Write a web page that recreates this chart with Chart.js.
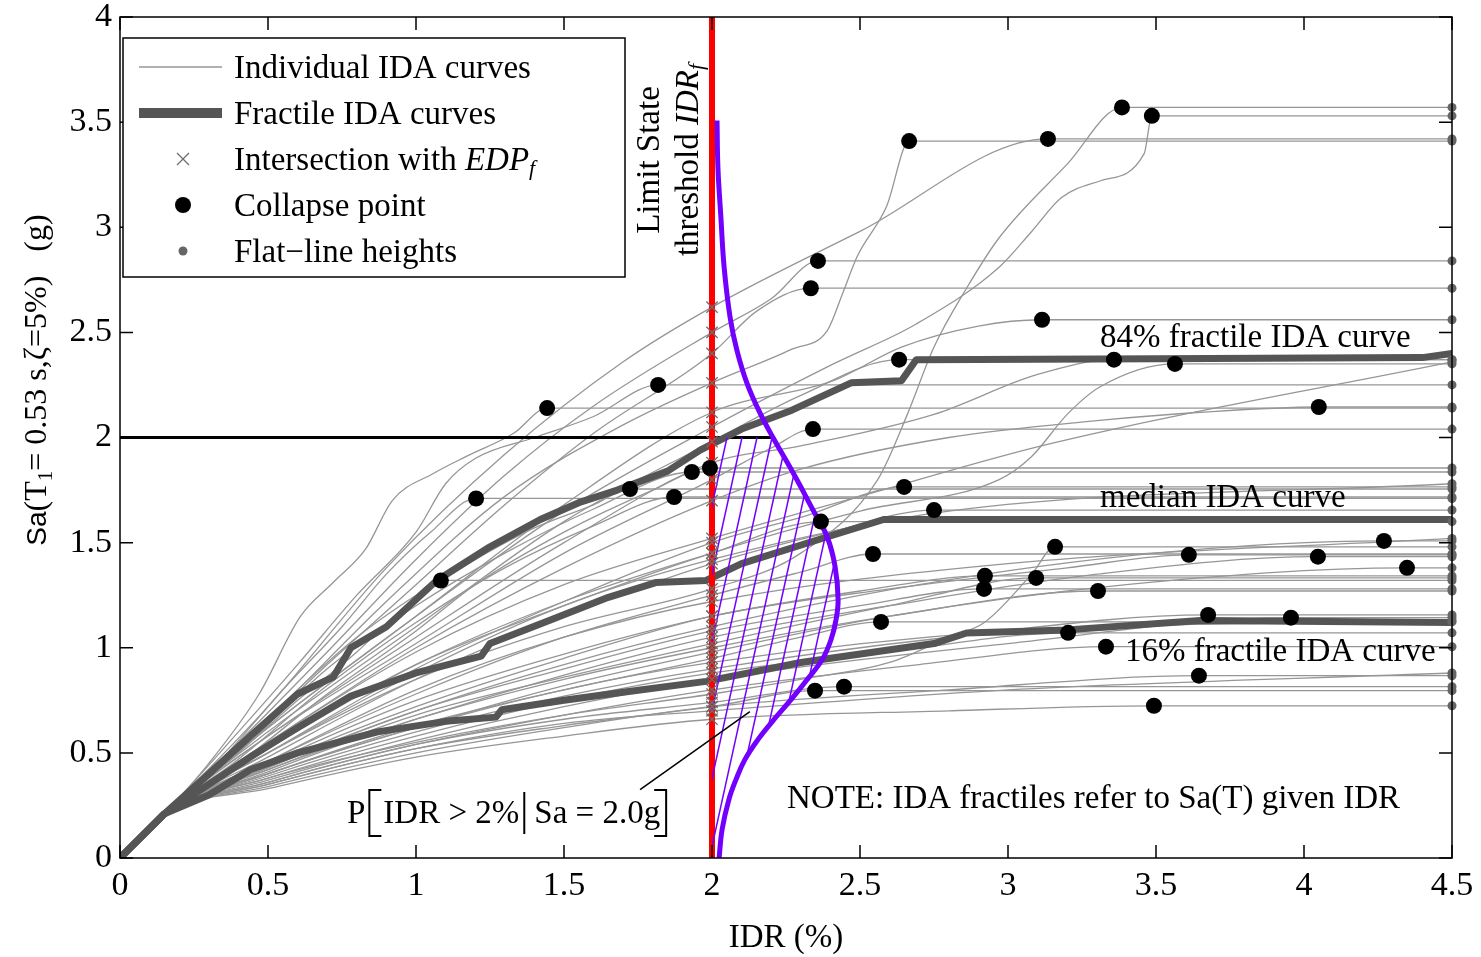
<!DOCTYPE html>
<html>
<head>
<meta charset="utf-8">
<script src="https://cdn.jsdelivr.net/npm/chart.js@4.4.1/dist/chart.umd.min.js"></script>
<style>
  body { margin: 0; background: #fff; }
</style>
</head>
<body>
<canvas id="grafica-ida" width="1481" height="957"></canvas>
<script>
// ticks
const idrTicks = [0, 0.5, 1, 1.5, 2, 2.5, 3, 3.5, 4, 4.5];
const saTicks = [0, 0.5, 1, 1.5, 2, 2.5, 3, 3.5, 4];

// limit state threshold and Sa level used for the probability
const limitIdr = 2.0;
const saLevel = 2.0;

// individual IDA curves, [IDR %, Sa g], last point is the flat-line at 4.5
const idaCurves = [
  [[0,0],[0.15,0.21],[0.4,0.5],[0.6,0.75],[0.8,0.98],[0.95,1.18],[1.084,1.32],[4.5,1.32]],
  [[0,0],[0.15,0.21],[0.35,0.48],[0.55,0.8],[0.75,1.1],[0.9,1.35],[1.05,1.55],[1.203,1.71],[4.5,1.71]],
  [[0,0],[0.15,0.21],[0.3,0.45],[0.47,0.78],[0.61,1.15],[0.72,1.31],[0.83,1.47],[0.92,1.7],[1.06,1.83],[1.17,1.91],[1.33,2.02],[1.443,2.14],[4.5,2.14]],
  [[0,0],[0.15,0.21],[0.4,0.6],[0.6,0.92],[0.8,1.25],[1.0,1.55],[1.1,1.78],[1.2,1.9],[1.4,2.0],[1.6,2.1],[1.818,2.25],[4.5,2.25]],
  [[0,0],[0.15,0.21],[0.4,0.52],[0.6,0.8],[0.8,1.05],[1.0,1.25],[1.2,1.42],[1.4,1.57],[1.6,1.68],[1.723,1.755],[4.5,1.755]],
  [[0,0],[0.15,0.21],[0.4,0.47],[0.7,0.82],[1.0,1.12],[1.3,1.38],[1.6,1.58],[1.872,1.717],[4.5,1.717]],
  [[0,0],[0.15,0.21],[0.4,0.5],[0.7,0.9],[1.0,1.2],[1.3,1.45],[1.6,1.66],[1.932,1.836],[4.5,1.836]],
  [[0,0],[0.15,0.21],[0.4,0.45],[0.7,0.78],[1.0,1.08],[1.2,1.3],[1.5,1.55],[1.8,1.75],[1.993,1.855],[4.5,1.855]],
  [[0,0],[0.15,0.21],[0.4,0.55],[0.7,0.98],[1.0,1.42],[1.3,1.82],[1.6,2.15],[2.0,2.5],[2.2,2.66],[2.358,2.84],[4.5,2.84]],
  [[0,0],[0.15,0.21],[0.4,0.52],[0.7,0.92],[1.0,1.3],[1.3,1.68],[1.6,2.02],[2.0,2.4],[2.15,2.6],[2.334,2.71],[4.5,2.71]],
  [[0,0],[0.15,0.21],[0.5,0.66],[0.9,1.22],[1.3,1.72],[1.7,2.06],[2.0,2.26],[2.27,2.42],[2.39,2.51],[2.44,2.68],[2.49,2.86],[2.59,3.1],[2.666,3.41],[4.5,3.41]],
  [[0,0],[0.15,0.21],[0.5,0.72],[0.9,1.38],[1.3,1.92],[1.7,2.36],[2.0,2.62],[2.5,2.98],[3.135,3.42],[4.5,3.42]],
  [[0,0],[0.15,0.21],[0.5,0.5],[1.0,0.85],[1.5,1.1],[2.0,1.28],[2.3,1.45],[2.56,1.8],[2.66,2.11],[2.75,2.43],[2.86,2.71],[2.97,2.95],[3.2,3.3],[3.385,3.57],[4.5,3.57]],
  [[0,0],[0.15,0.21],[0.5,0.62],[1.0,1.15],[1.5,1.65],[2.0,2.05],[2.41,2.35],[2.69,2.54],[2.97,2.81],[3.08,2.98],[3.18,3.14],[3.31,3.22],[3.46,3.35],[3.486,3.53],[4.5,3.53]],
  [[0,0],[0.15,0.21],[0.5,0.62],[1.0,1.15],[1.5,1.68],[2.0,2.12],[2.41,2.27],[2.64,2.43],[2.9,2.53],[3.115,2.56],[4.5,2.56]],
  [[0,0],[0.15,0.21],[0.5,0.6],[1.0,1.1],[1.5,1.6],[2.0,1.98],[2.3,2.2],[2.632,2.37],[4.5,2.37]],
  [[0,0],[0.15,0.21],[0.5,0.58],[1.0,1.05],[1.5,1.5],[2.0,1.88],[2.3,1.96],[2.75,2.11],[3.1,2.3],[3.358,2.37],[4.5,2.37]],
  [[0,0],[0.15,0.21],[0.5,0.52],[1.0,0.92],[1.5,1.2],[2.0,1.45],[2.5,1.65],[2.97,1.8],[3.08,1.91],[3.2,2.11],[3.31,2.24],[3.564,2.35],[4.5,2.35]],
  [[0,0],[0.15,0.21],[0.5,0.55],[1.0,0.98],[1.5,1.3],[2.0,1.52],[2.5,1.72],[3.14,1.97],[4.5,2.36]],
  [[0,0],[0.15,0.21],[0.5,0.55],[1.0,1.0],[1.5,1.38],[2.0,1.7],[2.3,1.85],[2.8,2.0],[3.3,2.08],[3.65,2.12],[4.05,2.145],[4.5,2.145]],
  [[0,0],[0.15,0.21],[0.5,0.58],[1.0,1.02],[1.5,1.45],[2.0,1.8],[2.2,1.95],[2.341,2.04],[4.5,2.04]],
  [[0,0],[0.15,0.21],[0.5,0.5],[1.0,0.9],[1.5,1.22],[2.0,1.5],[2.3,1.62],[2.649,1.765],[4.5,1.765]],
  [[0,0],[0.15,0.21],[0.5,0.48],[1.0,0.85],[1.5,1.15],[2.0,1.4],[2.4,1.55],[2.75,1.655],[4.5,1.655]],
  [[0,0],[0.15,0.21],[0.5,0.52],[1.0,0.92],[1.5,1.22],[2.0,1.45],[2.368,1.6],[4.5,1.6]],
  [[0,0],[0.15,0.21],[0.5,0.46],[1.0,0.78],[1.5,1.05],[2.0,1.25],[2.3,1.36],[2.544,1.446],[4.5,1.446]],
  [[0,0],[0.15,0.21],[0.5,0.38],[1.0,0.55],[1.5,0.68],[2.0,0.78],[2.3,0.85],[2.6,0.93],[2.8,1.05],[2.92,1.12],[3.08,1.35],[3.159,1.48],[4.5,1.48]],
  [[0,0],[0.15,0.21],[0.5,0.44],[1.0,0.72],[1.5,0.95],[2.0,1.15],[2.6,1.28],[3.2,1.38],[3.611,1.442],[4.5,1.442]],
  [[0,0],[0.15,0.21],[0.5,0.42],[1.0,0.66],[1.5,0.87],[2.0,1.05],[2.6,1.2],[3.3,1.35],[4.047,1.433],[4.5,1.433]],
  [[0,0],[0.15,0.21],[0.5,0.43],[1.0,0.7],[1.5,0.92],[2.0,1.1],[2.7,1.3],[3.5,1.45],[4.27,1.508],[4.5,1.508]],
  [[0,0],[0.15,0.21],[0.5,0.4],[1.0,0.62],[1.5,0.82],[2.0,0.98],[2.6,1.15],[3.4,1.3],[4.348,1.38],[4.5,1.38]],
  [[0,0],[0.15,0.21],[0.5,0.45],[1.0,0.75],[1.5,0.97],[2.0,1.15],[2.5,1.27],[2.922,1.342],[4.5,1.342]],
  [[0,0],[0.15,0.21],[0.5,0.43],[1.0,0.7],[1.5,0.9],[2.0,1.08],[2.5,1.2],[2.919,1.28],[4.5,1.28]],
  [[0,0],[0.15,0.21],[0.5,0.42],[1.0,0.68],[1.5,0.86],[2.0,1.02],[2.6,1.2],[3.095,1.332],[4.5,1.332]],
  [[0,0],[0.15,0.21],[0.5,0.41],[1.0,0.66],[1.5,0.85],[2.0,1.0],[2.6,1.15],[3.304,1.27],[4.5,1.27]],
  [[0,0],[0.15,0.21],[0.5,0.4],[1.0,0.63],[1.5,0.8],[2.0,0.95],[2.3,1.05],[2.571,1.123],[4.5,1.123]],
  [[0,0],[0.15,0.21],[0.5,0.38],[1.0,0.58],[1.5,0.75],[2.0,0.88],[2.6,0.98],[3.203,1.071],[4.5,1.071]],
  [[0,0],[0.15,0.21],[0.5,0.39],[1.0,0.6],[1.5,0.77],[2.0,0.9],[2.8,1.05],[3.676,1.156],[4.5,1.156]],
  [[0,0],[0.15,0.21],[0.5,0.37],[1.0,0.56],[1.5,0.72],[2.0,0.85],[3.0,1.02],[3.956,1.143],[4.5,1.143]],
  [[0,0],[0.15,0.21],[0.5,0.36],[1.0,0.54],[1.5,0.68],[2.0,0.8],[2.7,0.92],[3.331,1.005],[4.5,1.005]],
  [[0,0],[0.15,0.21],[0.5,0.34],[1.0,0.5],[1.5,0.62],[2.0,0.72],[2.8,0.8],[3.645,0.867],[4.5,0.867]],
  [[0,0],[0.15,0.21],[0.5,0.35],[1.0,0.52],[1.5,0.63],[2.0,0.72],[2.348,0.796],[4.5,0.796]],
  [[0,0],[0.15,0.21],[0.5,0.36],[1.0,0.54],[1.5,0.66],[2.0,0.74],[2.446,0.815],[4.5,0.815]],
  [[0,0],[0.15,0.21],[0.5,0.33],[1.0,0.48],[1.5,0.58],[2.0,0.66],[2.8,0.7],[3.493,0.724],[4.5,0.724]],
  [[0,0],[0.15,0.21],[0.5,0.4],[1.0,0.62],[1.5,0.8],[2.0,0.93],[3.0,1.08],[4.0,1.12],[4.5,1.13]],
  [[0,0],[0.15,0.21],[0.5,0.35],[1.0,0.52],[1.5,0.64],[2.0,0.7],[3.0,0.8],[4.5,0.88]],
  [[0,0],[0.15,0.21],[0.5,0.46],[1.0,0.8],[1.5,1.05],[2.0,1.22],[3.0,1.4],[4.5,1.52]],
  [[0,0],[0.15,0.21],[0.5,0.5],[1.0,0.88],[1.5,1.2],[2.0,1.42],[2.8,1.65],[4.5,1.78]]
];

// fractile IDA curves
const frac84 = [[0,0],[0.15,0.21],[0.3,0.4],[0.44,0.58],[0.6,0.78],[0.72,0.86],[0.78,1.0],[0.9,1.1],[1.07,1.32],[1.25,1.48],[1.42,1.61],[1.55,1.69],[1.68,1.75],[1.85,1.84],[1.96,1.94],[2.1,2.04],[2.27,2.13],[2.47,2.26],[2.64,2.27],[2.69,2.37],[3.5,2.375],[4.4,2.38],[4.5,2.4]];
const frac50 = [[0,0],[0.15,0.21],[0.3,0.35],[0.44,0.48],[0.6,0.62],[0.78,0.77],[1.0,0.88],[1.22,0.96],[1.25,1.02],[1.45,1.13],[1.65,1.24],[1.81,1.31],[1.98,1.32],[2.1,1.4],[2.35,1.51],[2.58,1.61],[4.5,1.61]];
const frac16 = [[0,0],[0.15,0.21],[0.3,0.3],[0.44,0.42],[0.6,0.5],[0.87,0.6],[1.1,0.65],[1.27,0.67],[1.29,0.705],[1.5,0.75],[1.68,0.785],[1.98,0.84],[2.3,0.93],[2.75,1.02],[2.86,1.07],[3.2,1.085],[3.65,1.13],[4.5,1.12]];

// distribution of IDR given Sa, drawn sideways on the threshold
const pdfCurve = [[2.017,3.508],[2.02,3.285],[2.03,3.048],[2.041,2.81],[2.061,2.573],[2.084,2.416],[2.118,2.259],[2.162,2.117],[2.206,2.0],[2.274,1.832],[2.341,1.656],[2.389,1.528],[2.416,1.385],[2.426,1.228],[2.419,1.133],[2.402,1.038],[2.372,0.943],[2.321,0.848],[2.267,0.753],[2.209,0.658],[2.155,0.563],[2.111,0.468],[2.081,0.373],[2.057,0.278],[2.034,0.135],[2.024,0]];

const SERIF = "'Liberation Serif', 'Times New Roman', serif";
const GRIS = 'rgb(150,150,150)';
const OSCURO = 'rgb(85,85,85)';
const MORADO = 'rgb(115,0,255)';

const toXY = arr => arr.map(p => ({ x: p[0], y: p[1] }));

// collapse points: where the curve turns flat before reaching 4.5
const collapsePts = [];
const flatPts = [];
const crossPts = [];
idaCurves.forEach(c => {
  const last = c[c.length - 1];
  const prev = c[c.length - 2];
  if (prev[1] === last[1]) collapsePts.push(prev);
  flatPts.push(last);
  c.forEach(p => { if (p[0] === limitIdr) crossPts.push(p); });
});
const saLine = [[0, saLevel], pdfCurve.find(p => p[1] === saLevel)];

const datasets = [];
datasets.push({ data: toXY(flatPts), showLine: false, pointRadius: 4.5, pointBackgroundColor: '#666', pointBorderWidth: 0, clip: false, order: 0 });
datasets.push({ data: toXY(collapsePts), showLine: false, pointRadius: 8, pointBackgroundColor: '#000', pointBorderWidth: 0, clip: false, order: 1 });
datasets.push({ data: toXY(crossPts), showLine: false, pointStyle: 'crossRot', pointRadius: 8, pointBorderColor: 'rgb(110,110,110)', pointBorderWidth: 1.3, order: 2 });
datasets.push({ id: 'pdf', data: toXY(pdfCurve), showLine: true, borderColor: MORADO, borderWidth: 5, pointRadius: 0, tension: 0.4, order: 3 });
datasets.push({ data: [{ x: limitIdr, y: 0 }, { x: limitIdr, y: 4 }], showLine: true, borderColor: '#ff0000', borderWidth: 6, pointRadius: 0, order: 4 });
[frac84, frac50, frac16].forEach(f => {
  datasets.push({ data: toXY(f), showLine: true, borderColor: OSCURO, borderWidth: 7, pointRadius: 0, borderJoinStyle: 'round', borderCapStyle: 'round', order: 5 });
});
datasets.push({ data: toXY(saLine), showLine: true, borderColor: '#000', borderWidth: 3, pointRadius: 0, order: 6 });
idaCurves.forEach(c => {
  datasets.push({ data: toXY(c), showLine: true, borderColor: GRIS, borderWidth: 1.3, pointRadius: 0, cubicInterpolationMode: 'monotone', order: 10 });
});

// draws a sequence of text runs (font changes, sub-scripts) starting at x
function drawRuns(ctx, runs, x, y, align) {
  let total = 0;
  runs.forEach(r => { ctx.font = r.f; total += ctx.measureText(r.t).width; });
  let cx = align === 'center' ? x - total / 2 : x;
  runs.forEach(r => {
    ctx.font = r.f;
    ctx.fillText(r.t, cx, y + (r.dy || 0));
    cx += ctx.measureText(r.t).width;
  });
  return cx;
}

const hatchPlugin = {
  id: 'hatch',
  beforeDatasetDraw(chart, args) {
    if (chart.data.datasets[args.index].id !== 'pdf') return;
    const ctx = chart.ctx;
    const xs = chart.scales.x, ys = chart.scales.y;
    const region = pdfCurve.filter(p => p[1] <= saLevel);
    ctx.save();
    ctx.beginPath();
    ctx.moveTo(xs.getPixelForValue(limitIdr), ys.getPixelForValue(saLevel));
    region.forEach(p => ctx.lineTo(xs.getPixelForValue(p[0]), ys.getPixelForValue(p[1])));
    ctx.lineTo(xs.getPixelForValue(limitIdr), ys.getPixelForValue(0));
    ctx.closePath();
    ctx.clip();
    const top = ys.getPixelForValue(saLevel), bot = ys.getPixelForValue(0);
    const lean = (bot - top) * 0.22;
    ctx.strokeStyle = MORADO;
    ctx.lineWidth = 1.5;
    for (let x0 = xs.getPixelForValue(limitIdr) - lean; x0 < xs.getPixelForValue(2.6); x0 += 15) {
      ctx.beginPath();
      ctx.moveTo(x0, bot);
      ctx.lineTo(x0 + lean, top);
      ctx.stroke();
    }
    ctx.restore();
  }
};

const decorPlugin = {
  id: 'decor',
  afterDraw(chart) {
    const ctx = chart.ctx;
    const a = chart.chartArea;
    const xs = chart.scales.x, ys = chart.scales.y;
    ctx.save();

    // box and inward ticks
    ctx.strokeStyle = '#000';
    ctx.lineWidth = 1.5;
    ctx.strokeRect(a.left, a.top, a.right - a.left, a.bottom - a.top);
    const tl = 13;
    ctx.beginPath();
    idrTicks.forEach(v => {
      const px = xs.getPixelForValue(v);
      ctx.moveTo(px, a.bottom); ctx.lineTo(px, a.bottom - tl);
      ctx.moveTo(px, a.top); ctx.lineTo(px, a.top + tl);
    });
    saTicks.forEach(v => {
      const py = ys.getPixelForValue(v);
      ctx.moveTo(a.left, py); ctx.lineTo(a.left + tl, py);
      ctx.moveTo(a.right, py); ctx.lineTo(a.right - tl, py);
    });
    ctx.stroke();

    // legend
    ctx.fillStyle = '#fff';
    ctx.fillRect(123, 38, 502, 239);
    ctx.strokeRect(123, 38, 502, 239);
    ctx.lineCap = 'butt';
    ctx.strokeStyle = GRIS; ctx.lineWidth = 1.3;
    ctx.beginPath(); ctx.moveTo(139, 67); ctx.lineTo(222, 67); ctx.stroke();
    ctx.strokeStyle = OSCURO; ctx.lineWidth = 10;
    ctx.beginPath(); ctx.moveTo(139, 113); ctx.lineTo(222, 113); ctx.stroke();
    ctx.strokeStyle = 'rgb(110,110,110)'; ctx.lineWidth = 1.3;
    ctx.beginPath();
    ctx.moveTo(177, 153); ctx.lineTo(189, 165);
    ctx.moveTo(189, 153); ctx.lineTo(177, 165);
    ctx.stroke();
    ctx.fillStyle = '#000';
    ctx.beginPath(); ctx.arc(183, 205, 8, 0, Math.PI * 2); ctx.fill();
    ctx.fillStyle = '#666';
    ctx.beginPath(); ctx.arc(183, 251, 4.5, 0, Math.PI * 2); ctx.fill();

    const F = s => s + 'px ' + SERIF;
    const FI = s => 'italic ' + s + 'px ' + SERIF;
    ctx.fillStyle = '#000';
    ctx.textBaseline = 'middle';
    ctx.textAlign = 'left';
    ctx.font = F(33);
    ctx.fillText('Individual IDA curves', 234, 69);
    ctx.fillText('Fractile IDA curves', 234, 115);
    drawRuns(ctx, [{ t: 'Intersection with ', f: F(33) }, { t: 'EDP', f: FI(33) }, { t: 'f', f: FI(22), dy: 8 }], 234, 161);
    ctx.font = F(33);
    ctx.fillText('Collapse point', 234, 207);
    ctx.fillText('Flat\u2212line heights', 234, 253);

    // limit state label, rotated
    ctx.save();
    ctx.translate(650, 160);
    ctx.rotate(-Math.PI / 2);
    ctx.font = F(33);
    ctx.textAlign = 'center';
    ctx.fillText('Limit State', 0, 0);
    ctx.restore();
    ctx.save();
    ctx.translate(689, 160);
    ctx.rotate(-Math.PI / 2);
    drawRuns(ctx, [{ t: 'threshold ', f: F(33) }, { t: 'IDR', f: FI(33) }, { t: 'f', f: FI(22), dy: 8 }], 0, 0, 'center');
    ctx.restore();

    // curve labels
    ctx.font = F(33);
    ctx.fillText('84% fractile IDA curve', 1100, 338);
    ctx.fillText('median IDA curve', 1100, 498);
    ctx.fillText('16% fractile IDA curve', 1125, 652);
    ctx.fillText('NOTE: IDA fractiles refer to Sa(T) given IDR', 787, 799);

    // probability annotation
    ctx.strokeStyle = '#000';
    ctx.lineWidth = 1.5;
    ctx.beginPath();
    ctx.moveTo(xs.getPixelForValue(1.757), ys.getPixelForValue(0.325));
    ctx.lineTo(xs.getPixelForValue(2.128), ys.getPixelForValue(0.696));
    ctx.stroke();
    ctx.font = F(33);
    let px = 347;
    ctx.fillText('P', px, 814);
    px += ctx.measureText('P').width + 4;
    ctx.lineWidth = 2;
    ctx.beginPath();
    ctx.moveTo(px + 12, 790); ctx.lineTo(px, 790); ctx.lineTo(px, 836); ctx.lineTo(px + 12, 836);
    ctx.stroke();
    px += 14;
    ctx.fillText('IDR > 2%', px, 814);
    px += ctx.measureText('IDR > 2%').width + 5;
    ctx.beginPath(); ctx.moveTo(px, 792); ctx.lineTo(px, 834); ctx.stroke();
    px += 10;
    ctx.fillText('Sa = 2.0g', px, 814);
    px += ctx.measureText('Sa = 2.0g').width + 6;
    ctx.beginPath();
    ctx.moveTo(px - 12, 790); ctx.lineTo(px, 790); ctx.lineTo(px, 836); ctx.lineTo(px - 12, 836);
    ctx.stroke();

    // axis titles
    ctx.textAlign = 'center';
    ctx.font = F(33);
    ctx.fillText('IDR (%)', 786, 938);
    ctx.save();
    ctx.translate(38, 380);
    ctx.rotate(-Math.PI / 2);
    ctx.textAlign = 'left';
    drawRuns(ctx, [
      { t: 'Sa', f: "28px 'Liberation Sans', Arial, sans-serif" },
      { t: '(T', f: F(32) },
      { t: '1', f: F(21), dy: 8 },
      { t: '= 0.53 s,\u03b6=5%)   (g)', f: F(32) }
    ], 0, 0, 'center');
    ctx.restore();

    ctx.restore();
  }
};

new Chart(document.getElementById('grafica-ida'), {
  type: 'scatter',
  data: { datasets },
  options: {
    responsive: false,
    animation: false,
    devicePixelRatio: 1,
    layout: { padding: { top: 17, right: 29, left: 0, bottom: 0 } },
    plugins: { legend: { display: false }, tooltip: { enabled: false } },
    scales: {
      x: {
        type: 'linear', min: 0, max: 4.5,
        afterBuildTicks: s => { s.ticks = idrTicks.map(v => ({ value: v })); },
        afterFit: s => { s.height = 99; s.paddingLeft = 0; s.paddingRight = 0; },
        ticks: { font: { family: SERIF, size: 34 }, color: '#000', padding: 8, maxRotation: 0, autoSkip: false, callback: v => String(v) },
        grid: { display: false, drawTicks: false },
        border: { display: false }
      },
      y: {
        type: 'linear', min: 0, max: 4,
        afterBuildTicks: s => { s.ticks = saTicks.map(v => ({ value: v })); },
        afterFit: s => { s.width = 120; s.paddingTop = 0; s.paddingBottom = 0; },
        ticks: { font: { family: SERIF, size: 34 }, color: '#000', padding: 8, autoSkip: false, callback: v => String(v) },
        grid: { display: false, drawTicks: false },
        border: { display: false }
      }
    }
  },
  plugins: [hatchPlugin, decorPlugin]
});
</script>
</body>
</html>
